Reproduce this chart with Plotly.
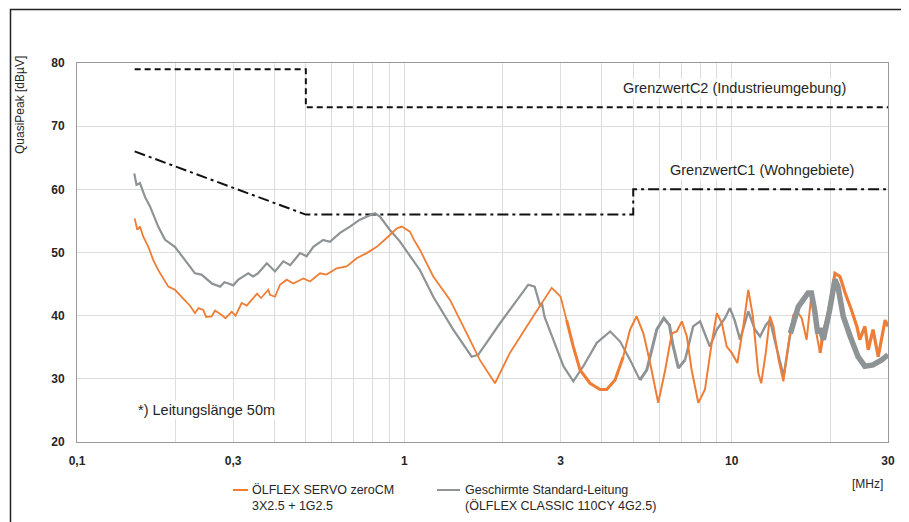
import plotly.graph_objects as go

# ---- data ----
freq_zerocm = [0.150, 0.1528, 0.1557, 0.1594, 0.1652, 0.171, 0.1771, 0.1835, 0.190, 0.1992,
               0.2138, 0.222, 0.2293, 0.235, 0.243, 0.248, 0.2578, 0.264, 0.2767, 0.284,
               0.2969, 0.305, 0.3184, 0.330, 0.3417, 0.355, 0.365, 0.3839, 0.3886, 0.4025,
               0.417, 0.437, 0.458, 0.491, 0.515, 0.5524, 0.578, 0.621, 0.666, 0.715,
               0.767, 0.823, 0.883, 0.947, 0.981, 1.040, 1.07, 1.116, 1.225, 1.378,
               1.55, 1.70, 1.891, 2.10, 2.475, 2.818, 3.0, 3.13, 3.28, 3.44,
               3.69, 3.96, 4.15, 4.40, 4.66, 4.89, 5.12, 5.37, 5.63, 5.96,
               6.26, 6.56, 6.79, 7.04, 7.29, 7.54, 7.90, 8.28, 8.68, 9.0,
               9.33, 9.65, 10.0, 10.4, 10.84, 11.23, 11.6, 12.05, 12.3, 12.7,
               13.08, 13.4, 13.9, 14.37, 14.9, 15.41, 15.96, 16.35, 16.93, 17.5,
               18.2, 18.6, 19.04, 19.7, 20.66, 21.4, 22.2, 23.2, 24.1, 24.6,
               25.5, 26.1, 27.0, 28.0, 29.4, 30.0]
qp_zerocm = [55.4, 53.6, 54.1, 52.5, 50.9, 48.8, 47.2, 45.9, 44.6, 44.1,
             42.5, 41.5, 40.4, 41.2, 40.9, 39.8, 39.9, 40.8, 40.1, 39.6,
             40.6, 40.0, 42.0, 41.6, 42.5, 43.5, 42.8, 44.1, 43.3, 43.0,
             44.9, 45.7, 45.1, 45.9, 45.4, 46.7, 46.5, 47.5, 47.8, 49.1,
             49.9, 50.9, 52.3, 53.8, 54.1, 53.3, 52.0, 50.4, 46.2, 42.5,
             37.2, 33.0, 29.3, 34.1, 39.9, 44.4, 43.0, 39.3, 35.1, 31.4,
             29.3, 28.3, 28.3, 29.8, 33.5, 37.8, 39.9, 37.2, 32.5, 26.2,
             31.4, 37.2, 37.5, 39.1, 36.7, 31.4, 26.2, 28.3, 35.6, 40.4,
             38.8, 35.1, 34.1, 32.5, 38.3, 44.1, 39.9, 30.9, 29.3, 34.1,
             39.9, 38.3, 33.0, 29.6, 35.6, 40.1, 40.4, 39.6, 36.2, 43.3,
             36.7, 34.1, 37.5, 40.1, 46.7, 46.2, 43.6, 40.9, 38.3, 36.2,
             38.3, 34.6, 37.8, 33.5, 39.3, 38.3]

freq_standard = [0.1496, 0.152, 0.1557, 0.1613, 0.1671, 0.177, 0.1858, 0.199, 0.2138, 0.2293,
                 0.240, 0.258, 0.2737, 0.282, 0.290, 0.300, 0.311, 0.3335, 0.345, 0.357,
                 0.380, 0.389, 0.4025, 0.4266, 0.448, 0.480, 0.5028, 0.527, 0.565, 0.592,
                 0.636, 0.682, 0.731, 0.785, 0.813, 0.842, 0.902, 0.967, 1.040, 1.116,
                 1.225, 1.41, 1.605, 1.68, 1.959, 2.39, 2.50, 2.60, 2.63, 2.68,
                 2.85, 3.06, 3.28, 3.52, 3.87, 4.25, 4.56, 4.89, 5.24, 5.50,
                 5.90, 6.2, 6.45, 6.6, 6.87, 7.2, 7.62, 8.0, 8.57, 9.0,
                 9.53, 9.87, 10.2, 10.6, 11.23, 11.77, 12.2, 12.7, 13.08, 13.6,
                 14.4, 15.1, 15.96, 17.1, 17.5, 17.9, 18.3, 18.6, 19.04, 19.9,
                 20.66, 21.1, 21.9, 23.0, 24.3, 25.5, 27.0, 28.7, 30.0]
qp_standard = [62.5, 60.7, 61.0, 58.8, 57.3, 54.1, 52.0, 50.9, 48.8, 46.7,
               46.5, 45.1, 44.6, 45.3, 45.1, 44.8, 45.7, 46.7, 46.2, 46.7,
               48.3, 47.8, 47.0, 48.6, 48.0, 49.9, 49.4, 50.9, 52.0, 51.7,
               53.1, 54.1, 55.2, 55.9, 56.2, 55.7, 53.6, 51.8, 49.4, 47.2,
               43.0, 37.8, 33.5, 33.8, 38.8, 44.9, 44.6, 41.5, 42.0, 39.8,
               36.2, 32.0, 29.6, 32.0, 35.7, 37.5, 35.9, 33.0, 29.8, 31.4,
               37.8, 39.6, 38.5, 35.5, 31.7, 33.0, 38.3, 39.1, 35.1, 37.8,
               39.6, 41.2, 39.3, 36.2, 40.7, 37.8, 36.7, 38.5, 39.3, 35.6,
               30.4, 37.2, 41.4, 43.6, 43.6, 40.9, 37.2, 38.0, 36.2, 40.9,
               45.7, 44.6, 39.9, 36.7, 33.5, 32.0, 32.2, 33.0, 33.8]

freq_c2 = [0.15, 0.5, 0.5, 30.0]
limit_c2 = [79, 79, 73, 73]
freq_c1 = [0.15, 0.5, 5.0, 5.0, 30.0]
limit_c1 = [66, 56, 56, 60, 60]

x_tickvals = [0.1, 0.2, 0.3, 0.4, 0.5, 0.6, 0.7, 0.8, 0.9,
              1, 2, 3, 4, 5, 6, 7, 8, 9, 10, 20, 30]
x_ticktext = ["0,1", "", "0,3", "", "", "", "", "", "",
              "1", "", "3", "", "", "", "", "", "", "10", "", "30"]
y_tickvals = [20, 30, 40, 50, 60, 70, 80]

name_zerocm = "ÖLFLEX SERVO zeroCM<br>3X2.5 + 1G2.5"
name_standard = "Geschirmte Standard-Leitung<br>(ÖLFLEX CLASSIC 110CY 4G2.5)"

ORANGE = "#EF7D35"
GREY = "#8E9396"
FONT = "Liberation Sans, Arial, sans-serif"
TXT = "#262626"

# page offset of the plotly div inside the html body
OFF = 8
W, H = 909 - OFF, 522 - OFF
L, R, T, B = 77 - OFF, W - (888 - OFF), 63 - OFF, H - (442 - OFF)
pw, ph = W - L - R, H - T - B


def px(x):
    return (x - OFF - L) / pw


def py(y):
    return (H - B - (y - OFF)) / ph


def segment(freqs, vals, lo, hi):
    xs, ys = [], []
    for f, v in zip(freqs, vals):
        if lo <= f <= hi:
            xs.append(f)
            ys.append(v)
    return xs, ys


fig = go.Figure()
fig.add_trace(go.Scatter(x=freq_c2, y=limit_c2, mode="lines",
                         line=dict(color="#111111", width=2, dash="6px,4px"),
                         showlegend=False, hoverinfo="skip"))
fig.add_trace(go.Scatter(x=freq_c1, y=limit_c1, mode="lines",
                         line=dict(color="#111111", width=2, dash="11px,4px,3px,4px"),
                         showlegend=False, hoverinfo="skip"))

# grey series (segment widths follow the measurement noise band)
for lo, hi, w in [(0.1, 5.3, 2.2), (5.2, 7.25, 3.0), (7.1, 16.0, 2.4)]:
    xs, ys = segment(freq_standard, qp_standard, lo, hi)
    fig.add_trace(go.Scatter(x=xs, y=ys, mode="lines",
                             line=dict(color=GREY, width=w, shape="linear"),
                             name=name_standard, showlegend=False))
# orange series
for lo, hi, w in [(0.1, 3.3, 1.8), (3.1, 4.7, 3.0), (4.6, 19.1, 2.0), (18.6, 30.0, 3.2)]:
    xs, ys = segment(freq_zerocm, qp_zerocm, lo, hi)
    fig.add_trace(go.Scatter(x=xs, y=ys, mode="lines", line=dict(color=ORANGE, width=w),
                             name=name_zerocm, showlegend=False))
# thick noisy part of the grey series, drawn on top
xs, ys = segment(freq_standard, qp_standard, 15.1, 30.0)
fig.add_trace(go.Scatter(x=xs, y=ys, mode="lines", line=dict(color=GREY, width=5.5),
                         name=name_standard, showlegend=False))

annotations = [
    dict(text="GrenzwertC2 (Industrieumgebung)", x=734, y=88, size=14.5),
    dict(text="GrenzwertC1 (Wohngebiete)", x=762, y=170, size=14.5),
    dict(text="*) Leitungslänge 50m", x=206, y=410, size=14.5),
]
for a in annotations:
    fig.add_annotation(text=a["text"], x=px(a["x"]), y=py(a["y"]), xref="paper", yref="paper",
                       showarrow=False, xanchor="center", yanchor="middle",
                       font=dict(family=FONT, size=a["size"], color=TXT),
                       bgcolor="rgba(255,255,255,0.85)")

fig.add_annotation(text="QuasiPeak [dBµV]", x=px(20), y=py(105), xref="paper", yref="paper",
                   showarrow=False, textangle=-90, xanchor="center", yanchor="middle",
                   font=dict(family=FONT, size=12, color=TXT))
fig.add_annotation(text="[MHz]", x=px(867), y=py(484), xref="paper", yref="paper",
                   showarrow=False, xanchor="center", yanchor="middle",
                   font=dict(family=FONT, size=12, color=TXT))
# legend entries
for name, x_text in [(name_zerocm, 250), (name_standard, 463)]:
    fig.add_annotation(text=name, x=px(x_text), y=py(481), xref="paper", yref="paper",
                       showarrow=False, xanchor="left", yanchor="top", align="left",
                       font=dict(family=FONT, size=12.5, color=TXT))
fig.add_shape(type="line", xref="paper", yref="paper", x0=px(233), x1=px(248),
              y0=py(490), y1=py(490), line=dict(color=ORANGE, width=2))
fig.add_shape(type="line", xref="paper", yref="paper", x0=px(437), x1=px(460),
              y0=py(490), y1=py(490), line=dict(color=GREY, width=2))
# outer frame
fig.add_shape(type="rect", xref="paper", yref="paper", x0=px(10.5), x1=px(905),
              y0=py(560), y1=py(9.5), line=dict(color="#222222", width=1.5),
              fillcolor="rgba(0,0,0,0)", layer="above")

fig.update_layout(
    width=W, height=H,
    margin=dict(l=L, r=R, t=T, b=B),
    paper_bgcolor="white", plot_bgcolor="white",
    font=dict(family=FONT, color=TXT),
    showlegend=False,
)
fig.update_xaxes(type="log", range=[-1, 1.47712], tickmode="array",
                 tickvals=x_tickvals, ticktext=x_ticktext,
                 showgrid=True, gridcolor="#DCDCDC", gridwidth=1,
                 showline=True, linecolor="#9A9A9A", linewidth=1, mirror=True,
                 ticks="", ticklabelstandoff=8,
                 tickfont=dict(family=FONT, size=12, color=TXT, weight="bold"),
                 zeroline=False)
fig.update_yaxes(range=[20, 80], tickmode="array", tickvals=y_tickvals,
                 showgrid=True, gridcolor="#DCDCDC", gridwidth=1,
                 showline=True, linecolor="#9A9A9A", linewidth=1, mirror=True,
                 ticks="", ticklabelstandoff=9,
                 tickfont=dict(family=FONT, size=12, color=TXT, weight="bold"),
                 zeroline=False)

fig.write_html("out.html")
